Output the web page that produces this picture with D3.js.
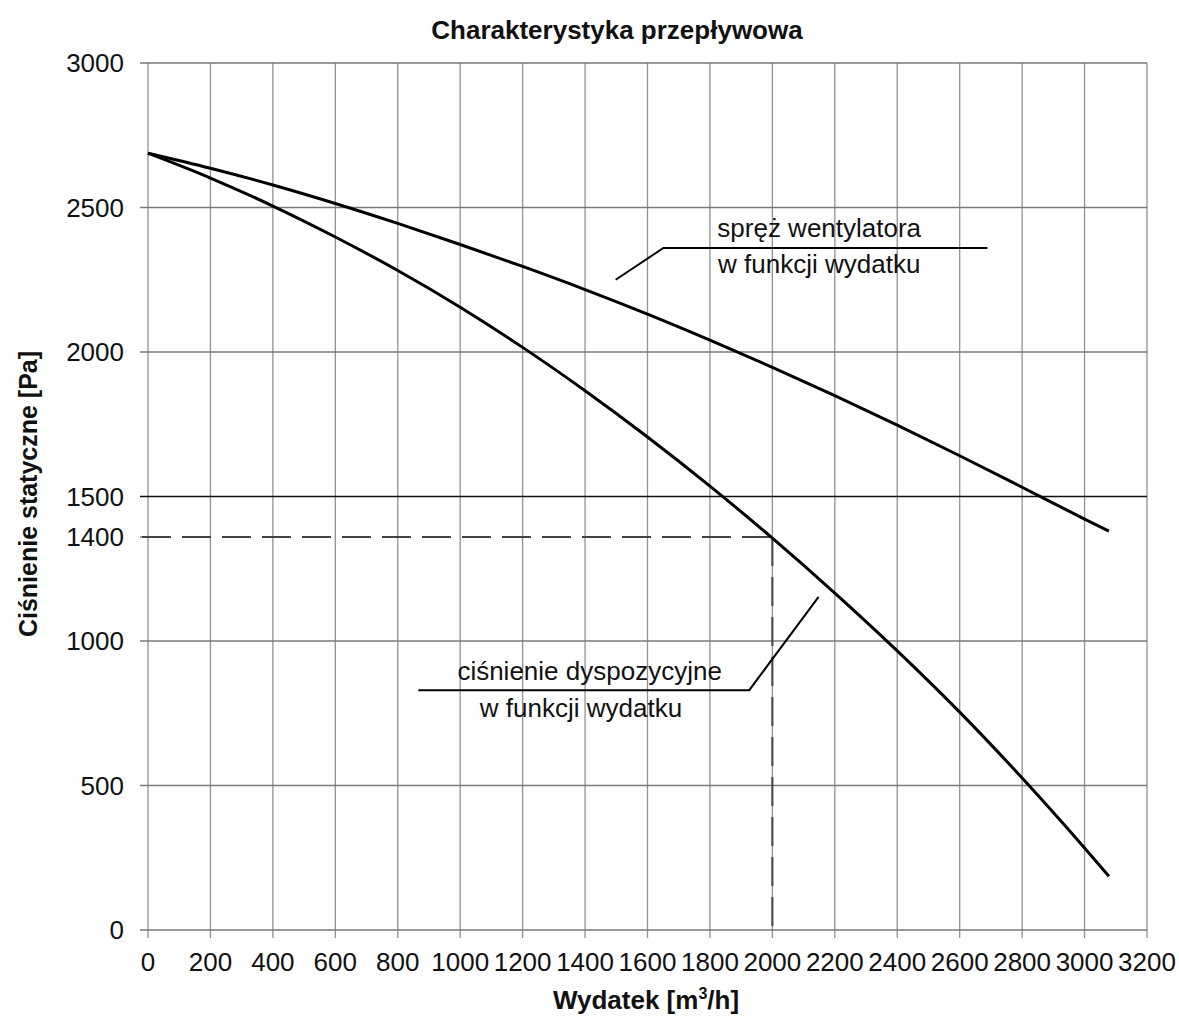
<!DOCTYPE html>
<html>
<head>
<meta charset="utf-8">
<script src="https://cdn.jsdelivr.net/npm/d3@7"></script>
<style>
  body { margin: 0; background: #fff; }
  text { font-family: "Liberation Sans", Arial, sans-serif; fill: #111; }
</style>
</head>
<body>
<div id="chart-area"></div>
<script>
// Charakterystyka przeplywowa - fan curve vs available pressure
var flow = [0, 200, 400, 600, 800, 1000, 1200, 1400, 1600, 1800, 2000, 2200, 2400, 2600, 2800, 3000, 3078];
var fanPressure = [2688, 2636, 2578, 2514, 2445, 2372, 2296, 2216, 2131, 2041, 1947, 1849, 1747, 1641, 1532, 1422, 1380];
var availPressure = [2688, 2602, 2505, 2398, 2282, 2155, 2016, 1866, 1706, 1536, 1356, 1166, 966, 754, 526, 284, 186];

var xTickValues = [0, 200, 400, 600, 800, 1000, 1200, 1400, 1600, 1800, 2000, 2200, 2400, 2600, 2800, 3000, 3200];
var yTickValues = [0, 500, 1000, 1500, 2000, 2500, 3000];

// operating point (label says 1400, drawn where the picture has it)
var opFlow = 2000;
var opPressure = 1360;
var opLabel = "1400";

var margin = { left: 148, right: 32, top: 63, bottom: 97 },
    width = 1179 - margin.left - margin.right,
    height = 1027 - margin.top - margin.bottom;

var svg = d3.select("#chart-area")
  .append("svg")
    .attr("width", 1179)
    .attr("height", 1027)
  .append("g")
    .attr("transform", "translate(" + margin.left + ", " + margin.top + ")");

var x = d3.scaleLinear().domain([0, 3200]).range([0, width]);
var y = d3.scaleLinear().domain([0, 3000]).range([height, 0]);

// Grid
svg.selectAll(".vgrid")
  .data(xTickValues)
  .enter().append("line")
    .attr("class", "vgrid")
    .attr("x1", d => x(d)).attr("x2", d => x(d))
    .attr("y1", 0).attr("y2", height + 8)
    .attr("stroke", "#919191")
    .attr("stroke-width", 1.3);

svg.selectAll(".hgrid")
  .data(yTickValues)
  .enter().append("line")
    .attr("class", "hgrid")
    .attr("x1", -8).attr("x2", width)
    .attr("y1", d => y(d)).attr("y2", d => y(d))
    .attr("stroke", d => d === 1500 ? "#111" : "#7a7a7a")
    .attr("stroke-width", d => d === 1500 ? 1.4 : 1.3);

// extra tick for operating point
svg.append("line")
  .attr("x1", -8).attr("x2", 0)
  .attr("y1", y(opPressure)).attr("y2", y(opPressure))
  .attr("stroke", "#7a7a7a").attr("stroke-width", 1.3);

// Tick labels
svg.selectAll(".xlab")
  .data(xTickValues)
  .enter().append("text")
    .attr("class", "xlab")
    .attr("x", d => x(d))
    .attr("y", height + 41)
    .attr("text-anchor", "middle")
    .attr("font-size", "26px")
    .text(d => d);

svg.selectAll(".ylab")
  .data(yTickValues.concat([opPressure]))
  .enter().append("text")
    .attr("class", "ylab")
    .attr("x", -24)
    .attr("y", d => y(d))
    .attr("dy", "0.35em")
    .attr("text-anchor", "end")
    .attr("font-size", "26px")
    .text(d => d === opPressure ? opLabel : d);

// Dashed operating point lines
svg.append("path")
  .attr("fill", "none")
  .attr("stroke", "#444")
  .attr("stroke-width", 2)
  .attr("stroke-dasharray", "29,11")
  .attr("d", "M" + (-6) + "," + y(opPressure) + "H" + x(opFlow));
svg.append("path")
  .attr("fill", "none")
  .attr("stroke", "#444")
  .attr("stroke-width", 2)
  .attr("stroke-dasharray", "29,11")
  .attr("d", "M" + x(opFlow) + "," + y(opPressure) + "V" + (height + 6));

// Curves
var line = d3.line()
  .x((d, i) => x(flow[i]))
  .y(d => y(d))
  .curve(d3.curveMonotoneX);

svg.append("path")
  .attr("fill", "none")
  .attr("stroke", "#000")
  .attr("stroke-width", 3)
  .attr("d", line(fanPressure));

svg.append("path")
  .attr("fill", "none")
  .attr("stroke", "#000")
  .attr("stroke-width", 3)
  .attr("d", line(availPressure));

// Annotations
var leader = d3.line().x(d => x(d[0])).y(d => y(d[1]));

svg.append("path")
  .attr("fill", "none").attr("stroke", "#000").attr("stroke-width", 2)
  .attr("d", leader([[1498, 2250], [1651, 2360], [2689, 2360]]));
svg.append("text")
  .attr("x", x(2150)).attr("y", y(2398))
  .attr("text-anchor", "middle").attr("font-size", "26px")
  .text("spręż wentylatora");
svg.append("text")
  .attr("x", x(2150)).attr("y", y(2273))
  .attr("text-anchor", "middle").attr("font-size", "26px")
  .text("w funkcji wydatku");

svg.append("path")
  .attr("fill", "none").attr("stroke", "#000").attr("stroke-width", 2)
  .attr("d", leader([[2148, 1153], [1926, 830], [866, 830]]));
svg.append("text")
  .attr("x", x(991)).attr("y", y(865))
  .attr("font-size", "26px")
  .text("ciśnienie dyspozycyjne");
svg.append("text")
  .attr("x", x(1063)).attr("y", y(738))
  .attr("font-size", "26px")
  .text("w funkcji wydatku");

// Titles
svg.append("text")
  .attr("x", 617 - margin.left)
  .attr("y", 39 - margin.top)
  .attr("text-anchor", "middle")
  .attr("font-size", "26px")
  .attr("font-weight", "bold")
  .text("Charakterystyka przepływowa");

var xLabel = svg.append("text")
  .attr("x", 646 - margin.left)
  .attr("y", height + 79)
  .attr("text-anchor", "middle")
  .attr("font-size", "26px")
  .attr("font-weight", "bold");
xLabel.append("tspan").text("Wydatek [m");
xLabel.append("tspan").attr("font-size", "16px").attr("dy", "-10").text("3");
xLabel.append("tspan").attr("dy", "10").text("/h]");

svg.append("text")
  .attr("transform", "rotate(-90)")
  .attr("x", -(494 - margin.top))
  .attr("y", 37 - margin.left)
  .attr("text-anchor", "middle")
  .attr("font-size", "25px")
  .attr("font-weight", "bold")
  .text("Ciśnienie statyczne [Pa]");
</script>
</body>
</html>
